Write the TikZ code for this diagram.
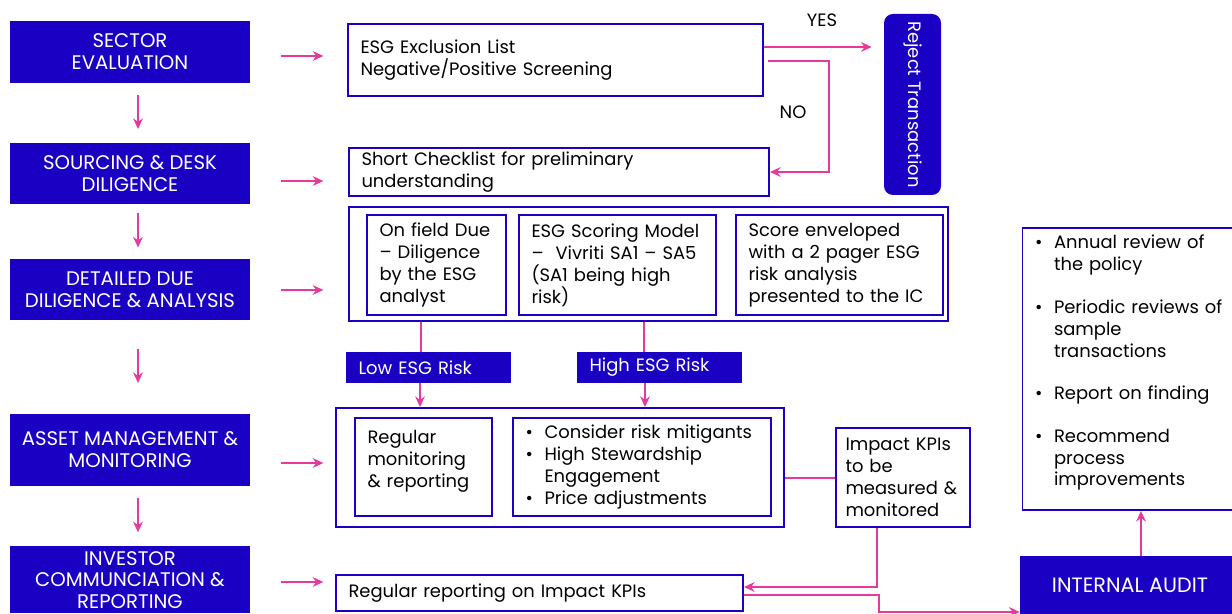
\documentclass[tikz,border=0pt]{standalone}
\usepackage{fontspec}
\setmainfont{Poppins}
\usetikzlibrary{arrows.meta,calc}

\definecolor{esgblue}{HTML}{1A00C2}
\definecolor{esgpink}{HTML}{E6399B}

\newcommand{\bitem}{\makebox[0.38cm][l]{\textbullet}}
\newcommand{\bcont}{\hspace*{0.38cm}}

\tikzset{
    stage/.style={fill=esgblue, text=white, align=center, minimum width=4.8cm, inner sep=0pt, font=\fontsize{11.2}{12.5}\selectfont},
    riskbox/.style={fill=esgblue, text=white, align=left, text width=2.8cm, inner xsep=0.25cm, inner ysep=0pt, minimum height=0.62cm},
    panel/.style={draw=esgblue, line width=1.1pt, fill=white, align=left, inner xsep=0.25cm, inner ysep=0pt},
    link/.style={draw=esgpink, line width=1.1pt},
    flow/.style={link, -{Stealth[length=6pt,width=5.5pt]}}
}

\begin{document}
\begin{tikzpicture}[font=\fontsize{10.2}{12.5}\selectfont]
    \useasboundingbox (0,0) rectangle (24.64,-12.28);

    % stages on the left
    \node[stage, minimum height=1.24cm] (sector) at (2.6,-1.04) {SECTOR\\EVALUATION};
    \node[stage, minimum height=1.22cm] (sourcing) at (2.6,-3.47) {SOURCING \& DESK\\DILIGENCE};
    \node[stage, minimum height=1.22cm] (detailed) at (2.6,-5.79) {DETAILED DUE\\DILIGENCE \& ANALYSIS};
    \node[stage, minimum height=1.44cm] (asset) at (2.6,-9.0) {ASSET MANAGEMENT \&\\MONITORING};
    \node[stage, minimum height=1.34cm, font=\fontsize{11.2}{12.2}\selectfont] (investor) at (2.6,-11.6) {INVESTOR\\COMMUNCIATION \&\\REPORTING};

    \foreach \a/\b in {sector/sourcing, sourcing/detailed, detailed/asset, asset/investor}
        \draw[flow] ($(\a.south)!0.5!(\b.north)+(0.16,0.36)$) -- ++(0,-0.68);

    \foreach \a/\dy in {sector/-0.08, sourcing/-0.15, detailed/-0.01, asset/-0.26, investor/-0.04}
        \draw[flow] ([xshift=0.62cm, yshift=\dy cm]\a.east) -- ++(0.84,0);

    % screening
    \node[panel, text width=7.8cm, minimum height=1.44cm] (exclusion) at (11.11,-1.2) {ESG Exclusion List\\Negative/Positive Screening};
    \node[panel, text width=7.9cm, minimum height=0.96cm] (checklist) at (11.18,-3.44) {Short Checklist for preliminary\\understanding};
    \node[stage, font=\fontsize{10.2}{12.5}\selectfont, rounded corners=0.18cm, minimum width=3.62cm, minimum height=1.14cm, rotate=-90] (reject) at (18.25,-2.09) {Reject Transaction};

    \draw[flow, shorten >=0.24cm] ([yshift=0.26cm]exclusion.east) -- ([yshift=0.26cm]exclusion.east -| reject.south);
    \draw[flow, shorten <=0.08cm] ([yshift=-0.02cm]exclusion.east) -- ++(1.3,0) |- (checklist.east);
    \node (yes) at (16.44,-0.4) {YES};
    \node (no) at (15.86,-2.24) {NO};

    % due diligence
    \node[panel, minimum width=11.98cm, minimum height=2.28cm] (ddbox) at (12.97,-5.28) {};
    \node[panel, text width=2.28cm, minimum height=2.0cm] (onfield) at (8.73,-5.3) {On field Due\\-- Diligence\\by the ESG\\analyst};
    \node[panel, text width=3.44cm, minimum height=2.0cm] (scoring) at (12.35,-5.3) {ESG Scoring Model\\--\ \ Vivriti SA1 -- SA5\\(SA1 being high\\risk)};
    \node[panel, text width=3.64cm, minimum height=2.0cm] (envelope) at (16.79,-5.3) {Score enveloped\\with a 2 pager ESG\\risk analysis\\presented to the IC};

    \node[riskbox] (lowrisk) at (8.57,-7.35) {Low ESG Risk};
    \node[riskbox] (highrisk) at (13.19,-7.35) {High ESG Risk};

    \draw[link] ([xshift=-0.15cm]lowrisk.north |- ddbox.south) -- ([xshift=-0.15cm]lowrisk.north);
    \draw[link] ([xshift=-0.31cm]highrisk.north |- ddbox.south) -- ([xshift=-0.31cm]highrisk.north);

    % asset management
    \node[panel, minimum width=8.96cm, minimum height=2.38cm] (assetbox) at (11.2,-9.35) {};
    \node[panel, text width=2.24cm, minimum height=1.96cm] (monitoring) at (8.47,-9.34) {Regular\\monitoring\\\& reporting\\[-0.1cm]\mbox{}};
    \node[panel, text width=4.66cm, minimum height=1.96cm] (mitigants) at (12.84,-9.34) {\bitem Consider risk mitigants\\\bitem High Stewardship\\\bcont Engagement\\\bitem Price adjustments};
    \node[panel, text width=2.3cm, inner xsep=0.19cm, minimum height=1.98cm] (impact) at (18.06,-9.55) {Impact KPIs\\to be\\measured \&\\monitored};

    \draw[flow] ([xshift=-0.17cm]lowrisk.south) -- ([xshift=-0.17cm]lowrisk.south |- assetbox.north);
    \draw[flow] ([xshift=-0.29cm]highrisk.south) -- ([xshift=-0.29cm]highrisk.south |- assetbox.north);
    \draw[link] ([yshift=-0.01cm]impact.west) -- ([yshift=-0.01cm]impact.west -| assetbox.east);

    % reporting and audit
    \node[panel, text width=7.64cm, minimum height=0.72cm] (reporting) at (10.79,-11.86) {Regular reporting on Impact KPIs};
    \node[stage, font=\fontsize{11.8}{12.5}\selectfont, minimum width=4.4cm, minimum height=1.16cm] (audit) at (22.6,-11.7) {INTERNAL AUDIT};
    \node[panel, text width=3.9cm, minimum height=5.64cm] (review) at (22.65,-7.38) {\bitem Annual review of\\\bcont the policy\\[0.41cm]\bitem Periodic reviews of\\\bcont sample\\\bcont transactions\\[0.41cm]\bitem Report on finding\\[0.41cm]\bitem Recommend\\\bcont process\\\bcont improvements\\[-0.1cm]\mbox{}};

    \draw[flow] ([xshift=-0.52cm]impact.south) |- ([yshift=0.12cm]reporting.east);
    \draw[flow] ([yshift=-0.04cm]reporting.east) -- ++(2.7,0) |- ([yshift=-0.54cm]audit.west);
    \draw[flow] ([xshift=0.22cm]audit.north) -- ([xshift=0.22cm]audit.north |- review.south);
\end{tikzpicture}
\end{document}
